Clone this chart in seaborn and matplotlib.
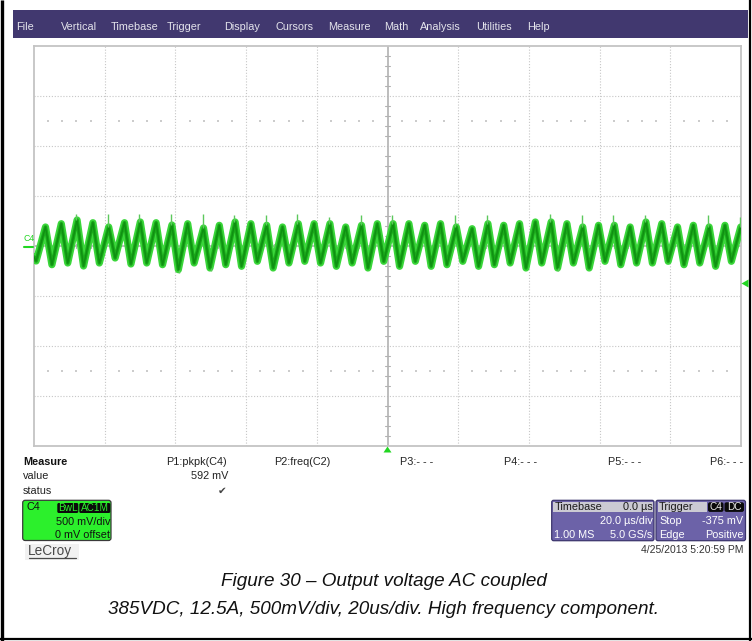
import numpy as np
import pandas as pd
import matplotlib
matplotlib.use("Agg")
import matplotlib.pyplot as plt
from matplotlib.patches import Rectangle, FancyBboxPatch, Polygon
import seaborn as sns

# ---------------- data ----------------
menu_labels = ["File", "Vertical", "Timebase", "Trigger", "Display", "Cursors",
               "Measure", "Math", "Analysis", "Utilities", "Help"]

# ripple trace (C4, AC coupled): one trough + one peak per switching cycle
period_us = 4.47          # cycle length
first_trough_us = -99.4   # time of the first trough
rise_us = 2.65            # trough -> peak
peak_mv = [190, 223, 260, 233, 190, 233, 240, 233, 210, 223, 180,
           207, 240, 223, 207, 190, 223, 223, 223, 190, 207, 223,
           223, 223, 207, 223, 190, 173, 223, 207, 223, 240, 240,
           223, 190, 207, 207, 190, 240, 223, 190, 207, 190, 207, 190]
trough_mv = [-150, -187, -170, -200, -170, -120, -180, -170, -187, -237, -170, -220,
             -187, -203, -153, -220, -170, -153, -170, -203, -170, -220, -153,
             -203, -153, -203, -187, -153, -203, -187, -170, -220, -170, -220,
             -170, -220, -153, -187, -170, -170, -153, -187, -170, -203, -153]
trace_start_mv = -110
# narrow spikes riding on the ripple
spike_up_idx = [2, 4, 6, 8, 10, 12, 14, 16, 18, 20, 22, 26, 28, 32, 34, 36, 38, 42, 44]
spike_up_mv = [325, 320, 325, 320, 320, 310, 310, 325, 293, 310, 310, 310, 310, 325,
               310, 310, 310, 310, 293]
spike_dn_idx = [9, 11, 33]
spike_dn_mv = [-267, -250, -250]

# measurement / channel / timebase readouts
meas_names = ["P1:pkpk(C4)", "P2:freq(C2)", "P3:- - -", "P4:- - -", "P5:- - -", "P6:- - -"]
pkpk_value = "592 mV"
ch_label = "C4"
ch_tags = ["BwL", "AC1M"]
ch_scale = "500 mV/div"
ch_offset = "0 mV offset"
tb_rows = [("Timebase", "0.0 µs"), ("", "20.0 µs/div"), ("1.00 MS", "5.0 GS/s")]
trig_rows = [("Trigger", ""), ("Stop", "-375 mV"), ("Edge", "Positive")]
trig_tags = ["C4", "DC"]
trigger_level_mv = -375
timestamp = "4/25/2013 5:20:59 PM"
caption = ["Figure 30 – Output voltage AC coupled",
           "385VDC, 12.5A, 500mV/div, 20us/div. High frequency component."]

# ---------------- style ----------------
sns.set_style("white")
plt.rcParams["font.family"] = ["Liberation Sans", "DejaVu Sans"]

W, H = 752, 641
fig = plt.figure(figsize=(W / 100, H / 100), dpi=100)
fig.patch.set_facecolor("white")

# scope graticule area (pixel box)
L, R, T, B = 34, 741, 46, 446
ax = fig.add_axes([L / W, 1 - B / H, (R - L) / W, (B - T) / H], zorder=1)
ax.set_xlim(-100, 100)
ax.set_ylim(-2000, 2000)
ax.set_xticks([])
ax.set_yticks([])
for s in ax.spines.values():
    s.set_color("#c4c4c4")
    s.set_linewidth(1.3)

grid_c = "#c6c6c6"
for t in range(-80, 100, 20):
    if t != 0:
        ax.axvline(t, color=grid_c, lw=0.8, ls=(0, (1, 1.6)), zorder=0)
for v in range(-1500, 2000, 500):
    if v != 0:
        ax.axhline(v, color=grid_c, lw=0.8, ls=(0, (1, 1.6)), zorder=0)
ax.axvline(0, color="#b2b2b2", lw=1.2, zorder=0)
ax.axhline(0, color="#b2b2b2", lw=1.2, zorder=0)
# minor ticks on the centre axes
for v in range(-1900, 2000, 100):
    if v % 500:
        ax.plot([-0.6, 0.6], [v, v], color="#b2b2b2", lw=0.8, zorder=0)
for t in range(-96, 100, 4):
    if t % 20:
        ax.plot([t, t], [-22, 22], color="#b2b2b2", lw=0.8, zorder=0)
# sparse dot rows
dot_t = [t for t in range(-96, 100, 4) if t % 20]
for v in (1250, -1250):
    ax.scatter(dot_t, [v] * len(dot_t), s=0.8, color="#cccccc", marker="s", lw=0, zorder=0)

# build the trace polyline
n = len(peak_mv)
t_pts = [-100.0]
v_pts = [trace_start_mv]
peak_t = []
trough_t = []
for i in range(n):
    tt = first_trough_us + i * period_us
    trough_t.append(tt)
    peak_t.append(tt + rise_us)
    t_pts += [tt, tt + rise_us]
    v_pts += [trough_mv[i], peak_mv[i]]
trace = pd.DataFrame({"t": t_pts, "mV": v_pts})

sns.lineplot(data=trace, x="t", y="mV", ax=ax, color="#3ad63a", lw=5.2,
             estimator=None, sort=False, zorder=3)
sns.lineplot(data=trace, x="t", y="mV", ax=ax, color="#1aa81a", lw=2.6,
             estimator=None, sort=False, zorder=4)
sns.lineplot(data=trace, x="t", y="mV", ax=ax, color="#0f8f12", lw=1.0,
             estimator=None, sort=False, zorder=4)
ax.vlines([peak_t[i] - 0.25 for i in spike_up_idx],
          [peak_mv[i] for i in spike_up_idx], spike_up_mv,
          color="#5cc85c", lw=1.0, zorder=5)
ax.vlines([trough_t[i] + 0.2 for i in spike_dn_idx],
          [trough_mv[i] for i in spike_dn_idx], spike_dn_mv,
          color="#5cc85c", lw=1.0, zorder=5)
ax.set_xlabel("")
ax.set_ylabel("")

# ---------------- screen furniture (pixel overlay) ----------------
ov = fig.add_axes([0, 0, 1, 1], zorder=3)
ov.set_xlim(0, W)
ov.set_ylim(H, 0)
ov.axis("off")
ov.patch.set_alpha(0)

# menu bar
ov.add_patch(Rectangle((13, 10), 735, 28, fc="#41386f", ec="none"))
menu_x = [16, 61, 111, 167, 224, 275, 328, 384, 420, 476, 527]
for lab, x in zip(menu_labels, menu_x):
    ov.text(x, 27.5, lab, color="#e4e4ec", fontsize=7.8, va="center", ha="left")

# channel marker on the left
green = "#22d622"
ov.text(23, 238.5, ch_label, color=green, fontsize=6.3, va="center", ha="left")
ov.plot([24, 33], [246.5, 246.5], color=green, lw=1.5)

# trigger level / position markers
ty = 246 - trigger_level_mv / 10.0
ov.add_patch(Polygon([[741.5, ty], [748.5, ty - 4], [748.5, ty + 4]], closed=True, fc=green, ec="none"))
ov.add_patch(Polygon([[387.5, 446.5], [383.5, 452.5], [391.5, 452.5]], closed=True, fc=green, ec="none"))

# measurement table
fs = 7.8
ov.text(23, 462, "Measure", fontsize=fs, fontweight="bold", va="center", color="#111")
ov.text(23, 476, "value", fontsize=fs, va="center", color="#222")
ov.text(23, 490.5, "status", fontsize=fs, va="center", color="#222")
meas_x = [166.5, 274, 400.5, 504.5, 608, 710]
for lab, x in zip(meas_names, meas_x):
    ov.text(x, 462, lab, fontsize=fs, va="center", ha="left", color="#222")
ov.text(228.5, 476, pkpk_value, fontsize=fs, va="center", ha="right", color="#222")
ov.text(222, 490.5, "✔", fontsize=7.5, va="center", ha="center", color="#444",
        family=["DejaVu Sans"])

# channel descriptor box
ov.add_patch(FancyBboxPatch((22.7, 500.3), 88.3, 40.2,
                            boxstyle="round,pad=0,rounding_size=2.5",
                            fc="#2cf02c", ec="#3a3a3a", lw=0.9))
ov.text(26.5, 507.5, ch_label, fontsize=fs, va="center", color="#111")
tag_boxes = [(57.3, 21), (79.3, 31)]
for tag, (x0, w) in zip(ch_tags, tag_boxes):
    ov.add_patch(FancyBboxPatch((x0, 503), w, 10, boxstyle="round,pad=0,rounding_size=1.5",
                                fc="#0a0a0a", ec="none"))
    ov.text(x0 + w / 2, 508.2, tag, fontsize=7.2, va="center", ha="center", color="#2cf02c")
ov.text(110, 522, ch_scale, fontsize=fs, va="center", ha="right", color="#111")
ov.text(110, 535.5, ch_offset, fontsize=fs, va="center", ha="right", color="#111")

# LeCroy wordmark
ov.add_patch(Rectangle((25, 544), 54, 16, fc="#f1f1f1", ec="none"))
ov.text(28, 551.5, "LeCroy", fontsize=9.8, va="center", ha="left", color="#4a4a4a")
ov.plot([28.5, 75.5], [558.3, 558.3], color="#4a4a4a", lw=0.9)

# timebase / trigger panels
purple = "#6c62a8"
head_c = "#cbcad3"
ov.add_patch(FancyBboxPatch((551.7, 500.3), 102.3, 40.4, boxstyle="round,pad=0,rounding_size=2",
                            fc=purple, ec="#3c356d", lw=0.9))
ov.add_patch(Rectangle((553.2, 501.8), 99.3, 10.2, fc=head_c, ec="none"))
ov.add_patch(FancyBboxPatch((656, 500.3), 89.5, 40.4, boxstyle="round,pad=0,rounding_size=2",
                            fc=purple, ec="#3c356d", lw=0.9))
ov.add_patch(Rectangle((657.5, 501.8), 49, 10.2, fc=head_c, ec="none"))
row_y = [507, 521, 534.5]
for k, (lft, rgt) in enumerate(tb_rows):
    c = "#1a1a1a" if k == 0 else "white"
    if lft:
        ov.text(554.5, row_y[k], lft, fontsize=fs, va="center", ha="left", color=c)
    ov.text(652.5, row_y[k], rgt, fontsize=fs, va="center", ha="right", color=c)
for k, (lft, rgt) in enumerate(trig_rows):
    c = "#1a1a1a" if k == 0 else "white"
    ov.text(659, row_y[k], lft, fontsize=fs, va="center", ha="left", color=c)
    if rgt:
        ov.text(743.5, row_y[k], rgt, fontsize=fs, va="center", ha="right", color=c)
trig_boxes = [(708, 15.5), (724.5, 19.5)]
for tag, (x0, w) in zip(trig_tags, trig_boxes):
    ov.add_patch(FancyBboxPatch((x0, 502.3), w, 9.6, boxstyle="round,pad=0,rounding_size=2",
                                fc="#0a0a0a", ec="none"))
    ov.text(x0 + w / 2, 507.3, tag, fontsize=7.2, va="center", ha="center", color="#e8e8e8")

ov.text(743.5, 550, timestamp, fontsize=7.5, va="center", ha="right", color="#333")

# caption
for k, line in enumerate(caption):
    ov.text(384, 582 + 28 * k, line, fontsize=13.6, fontstyle="italic", ha="center",
            va="center", color="#111")

# page frame
ov.plot([2, 2], [0, H], color="black", lw=2.4, solid_capstyle="butt")
ov.plot([750, 750], [0, H], color="black", lw=1.6, solid_capstyle="butt")
ov.plot([0, W], [639, 639], color="black", lw=1.6, solid_capstyle="butt")

fig.savefig("out.png", dpi=100, facecolor="white")
